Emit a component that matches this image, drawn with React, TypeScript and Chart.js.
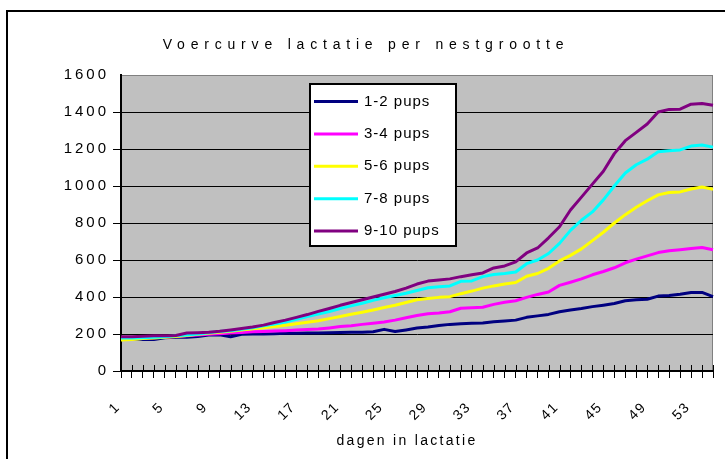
import React, { useEffect, useRef } from 'react';
import { Chart, registerables } from 'chart.js';

Chart.register(...registerables);

const titleText = 'Voercurve lactatie per nestgrootte';
const xAxisTitle = 'dagen in lactatie';

const days = [
  '1', '2', '3', '4', '5', '6', '7', '8', '9', '10',
  '11', '12', '13', '14', '15', '16', '17', '18', '19', '20',
  '21', '22', '23', '24', '25', '26', '27', '28', '29', '30',
  '31', '32', '33', '34', '35', '36', '37', '38', '39', '40',
  '41', '42', '43', '44', '45', '46', '47', '48', '49', '50',
  '51', '52', '53', '54', '55',
];
const labelEvery = 4;

const seriesNames = ['1-2 pups', '3-4 pups', '5-6 pups', '7-8 pups', '9-10 pups'];
const seriesColors = ['#000080', '#FF00FF', '#FFFF00', '#00FFFF', '#800080'];

const pups12 = [
  177, 175, 170, 170, 180, 182, 183, 186, 195, 196,
  185, 198, 200, 200, 202, 204, 204, 205, 205, 207,
  208, 210, 210, 212, 225, 213, 222, 232, 238, 246,
  252, 256, 258, 260, 266, 270, 275, 290, 298, 306,
  320, 330, 338, 348, 356, 365, 380, 385, 388, 405,
  408, 415, 424, 425, 402,
];
const pups34 = [
  178, 178, 178, 180, 182, 186, 190, 195, 198, 202,
  205, 208, 212, 214, 216, 218, 221, 224, 227, 233,
  240, 245, 252, 258, 265, 275, 288, 300, 310, 314,
  320, 339, 342, 345, 360, 372, 380, 398, 414, 427,
  463, 480, 498, 520, 538, 558, 585, 605, 622, 640,
  650, 656, 662, 668, 655,
];
const pups56 = [
  168, 170, 175, 178, 182, 186, 192, 198, 204, 210,
  215, 222, 228, 234, 240, 247, 255, 263, 272, 283,
  295, 307, 318, 330, 343, 355, 370, 385, 392, 398,
  402, 418, 432, 448, 460, 470, 478, 512, 527, 555,
  595, 625, 660, 705, 750, 800, 845, 885, 920, 952,
  965, 968, 984, 995, 982,
];
const pups78 = [
  178, 178, 180, 182, 185, 190, 195, 200, 207, 213,
  218, 226, 234, 244, 254, 265, 280, 295, 308, 322,
  338, 352, 366, 382, 396, 408, 420, 435, 450, 455,
  460, 485, 487, 510, 522, 527, 535, 580, 600, 635,
  690, 760, 815, 860, 925, 1000, 1070, 1115, 1145, 1185,
  1191, 1195, 1216, 1222, 1210,
];
const pups910 = [
  185, 185, 188, 190, 190, 192, 205, 207, 210, 215,
  222, 230, 238, 248, 262, 275, 290, 305, 322, 338,
  355, 370, 385, 400, 415, 430, 448, 470, 486, 492,
  498, 510, 520, 530, 557, 568, 590, 638, 665, 720,
  780, 870, 940, 1010, 1080, 1175, 1245, 1290, 1335, 1400,
  1414, 1415, 1442, 1446, 1436,
];
const seriesValues = [pups12, pups34, pups56, pups78, pups910];

const yMin = 0;
const yMax = 1600;
const yStep = 200;

const decorPlugin = {
  id: 'decor',
  beforeDraw(chart: any) {
    const { ctx, chartArea: a } = chart;
    ctx.save();
    ctx.fillStyle = '#ffffff';
    ctx.fillRect(0, 0, chart.width, chart.height);
    ctx.strokeStyle = '#000000';
    ctx.lineWidth = 2;
    ctx.strokeRect(7, 11, 900, 700);
    ctx.fillStyle = '#C0C0C0';
    ctx.fillRect(a.left, a.top, a.right - a.left, a.bottom - a.top);
    ctx.strokeStyle = '#808080';
    ctx.lineWidth = 1;
    ctx.strokeRect(a.left + 0.5, a.top + 0.5, a.right - a.left - 1, a.bottom - a.top);
    ctx.restore();
    (ctx as any).letterSpacing = '3px';
  },
  afterDraw(chart: any) {
    const { ctx, chartArea: a } = chart;
    const xs = chart.scales.x;
    ctx.save();
    // inward half of the crossing x tick marks
    ctx.strokeStyle = '#000000';
    ctx.lineWidth = 1;
    ctx.beginPath();
    for (let i = 0; i < days.length; i++) {
      const px = Math.round(xs.getPixelForValue(i)) + 0.5;
      ctx.moveTo(px, a.bottom - 6);
      ctx.lineTo(px, a.bottom);
    }
    ctx.stroke();

    // rotated x tick labels
    ctx.fillStyle = '#000000';
    ctx.font = '14px "Liberation Sans", Arial, sans-serif';
    (ctx as any).letterSpacing = '1.5px';
    ctx.textAlign = 'right';
    ctx.textBaseline = 'middle';
    for (let i = 0; i < days.length; i += labelEvery) {
      const px = xs.getPixelForValue(i);
      ctx.save();
      ctx.translate(px - 3, a.bottom + 34);
      ctx.rotate(-Math.PI / 4);
      ctx.fillText(days[i], 0, 0);
      ctx.restore();
    }

    // title
    ctx.textAlign = 'center';
    ctx.textBaseline = 'middle';
    ctx.font = '14px "Liberation Sans", Arial, sans-serif';
    (ctx as any).letterSpacing = '5.8px';
    ctx.fillText(titleText, 366, 45);

    // x axis title
    (ctx as any).letterSpacing = '2.3px';
    ctx.fillText(xAxisTitle, 407, 441);

    // legend
    (ctx as any).letterSpacing = '1px';
    const lx = 310, ly = 84, lw = 146, lh = 162;
    ctx.fillStyle = '#ffffff';
    ctx.fillRect(lx, ly, lw, lh);
    ctx.strokeStyle = '#000000';
    ctx.lineWidth = 2;
    ctx.strokeRect(lx, ly, lw, lh);
    ctx.font = '15px "Liberation Sans", Arial, sans-serif';
    ctx.textAlign = 'left';
    chart.data.datasets.forEach((ds: any, i: number) => {
      const y = 101.5 + i * 32.4;
      ctx.strokeStyle = ds.borderColor;
      ctx.lineWidth = 3;
      ctx.beginPath();
      ctx.moveTo(314, y);
      ctx.lineTo(358, y);
      ctx.stroke();
      ctx.fillStyle = '#000000';
      ctx.fillText(ds.label, 364, y);
    });
    ctx.restore();
    (ctx as any).letterSpacing = '0px';
  },
};

export default function App() {
  const canvasRef = useRef<HTMLCanvasElement | null>(null);

  useEffect(() => {
    document.body.style.margin = '0';
    const canvas = canvasRef.current;
    if (!canvas) return;
    const chart = new Chart(canvas, {
      type: 'line',
      data: {
        labels: days,
        datasets: seriesNames.map((name, i) => ({
          label: name,
          data: seriesValues[i],
          borderColor: seriesColors[i],
          backgroundColor: seriesColors[i],
          borderWidth: 3,
          pointRadius: 0,
          tension: 0,
          borderJoinStyle: 'round' as const,
          order: seriesNames.length - 1 - i,
        })),
      },
      options: {
        responsive: false,
        animation: false,
        devicePixelRatio: 1,
        layout: { padding: { top: 75, right: 12, left: 0, bottom: 0 } },
        plugins: {
          legend: { display: false },
          title: { display: false },
          tooltip: { enabled: false },
        },
        scales: {
          x: {
            type: 'category',
            offset: false,
            afterFit: (s: any) => {
              s.height = 88;
            },
            border: { display: true, color: '#000000', width: 2 },
            grid: {
              drawOnChartArea: false,
              drawTicks: true,
              tickLength: 7,
              color: '#000000',
              offset: false,
            },
            ticks: {
              display: false,
              autoSkip: false,
              maxRotation: 0,
              minRotation: 0,
            },
          },
          y: {
            min: yMin,
            max: yMax,
            afterFit: (s: any) => {
              s.width = 121;
            },
            border: { display: true, color: '#000000', width: 2 },
            grid: {
              drawOnChartArea: true,
              tickLength: 8,
              color: (c: any) => (c.tick && c.tick.value === yMax ? 'rgba(0,0,0,0)' : '#000000'),
              lineWidth: 1,
            },
            ticks: {
              stepSize: yStep,
              padding: 4,
              color: '#000000',
              font: { family: 'Arial, "Liberation Sans", sans-serif', size: 15 },
              callback: (v: any) => String(v),
            },
          },
        },
      },
      plugins: [decorPlugin],
    });
    return () => chart.destroy();
  }, []);

  return (
    <div style={{ width: 725, height: 459 }}>
      <canvas ref={canvasRef} width={725} height={459} style={{ display: 'block', width: 725, height: 459 }} />
    </div>
  );
}
